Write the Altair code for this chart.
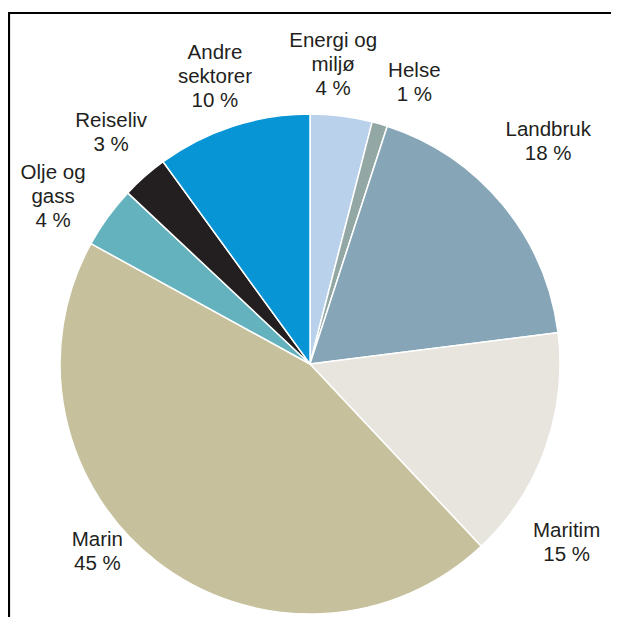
import math
import altair as alt
import pandas as pd

# Data
sectors = ["Energi og miljø", "Helse", "Landbruk", "Maritim", "Marin",
           "Olje og gass", "Reiseliv", "Andre sektorer"]
shares = [4, 1, 18, 15, 45, 4, 3, 10]
label_lines = ["Energi og\nmiljø", "Helse", "Landbruk", "Maritim", "Marin",
               "Olje og\ngass", "Reiseliv", "Andre\nsektorer"]
colors = ["#b9d1eb", "#93a8a4", "#86a6b8", "#e8e5de", "#c6c19c",
          "#63b2bd", "#231f20", "#0895d5"]

# Label placement of first line (degrees clockwise from 12 o'clock, pixel distance from centre)
label_angle_deg = [4.1, 19.6, 45.5, 123.0, 230.4, 306.6, 320.7, 343.0]
label_radius = [324, 311, 334, 306, 276, 320, 314, 325]

CX, CY, R = 302, 356, 250
W, H = 603, 609

pie_df = pd.DataFrame({"sector": sectors, "share": shares,
                       "idx": list(range(len(sectors)))})
lab_df = pd.DataFrame({
    "sector": sectors,
    "text": [f"{l}\n{v} %" for l, v in zip(label_lines, shares)],
    "ang": [math.radians(a) for a in label_angle_deg],
    "r": label_radius,
})

pie = alt.Chart(pie_df).mark_arc(
    stroke="white", strokeWidth=1.5, outerRadius=R
).encode(
    theta=alt.Theta("share:Q", stack=True),
    order=alt.Order("idx:Q", sort="ascending"),
    color=alt.Color("sector:N", scale=alt.Scale(domain=sectors, range=colors),
                    legend=None),
    x=alt.value(CX),
    y=alt.value(CY),
)

labels = alt.Chart(lab_df).mark_text(
    font="Liberation Sans", fontSize=20.5, lineBreak="\n", lineHeight=24,
    align="center", baseline="middle", color="#231f20"
).encode(
    theta=alt.Theta("ang:Q", scale=None),
    radius=alt.Radius("r:Q", scale=None),
    text="text:N",
    x=alt.value(CX),
    y=alt.value(CY),
)

top_line = alt.Chart(pd.DataFrame({"a": [0]})).mark_rule(
    color="black", strokeWidth=2.2
).encode(x=alt.value(0), x2=alt.value(W), y=alt.value(5))

left_line = alt.Chart(pd.DataFrame({"a": [0]})).mark_rule(
    color="black", strokeWidth=2.2
).encode(x=alt.value(1), y=alt.value(4), y2=alt.value(H))

chart = alt.layer(pie, labels, top_line, left_line).properties(
    width=W, height=H, padding=0, autosize=alt.AutoSizeParams(type="none")
).configure_view(stroke=None)

chart.save("out.html", embed_options={"renderer": "svg", "actions": False})
